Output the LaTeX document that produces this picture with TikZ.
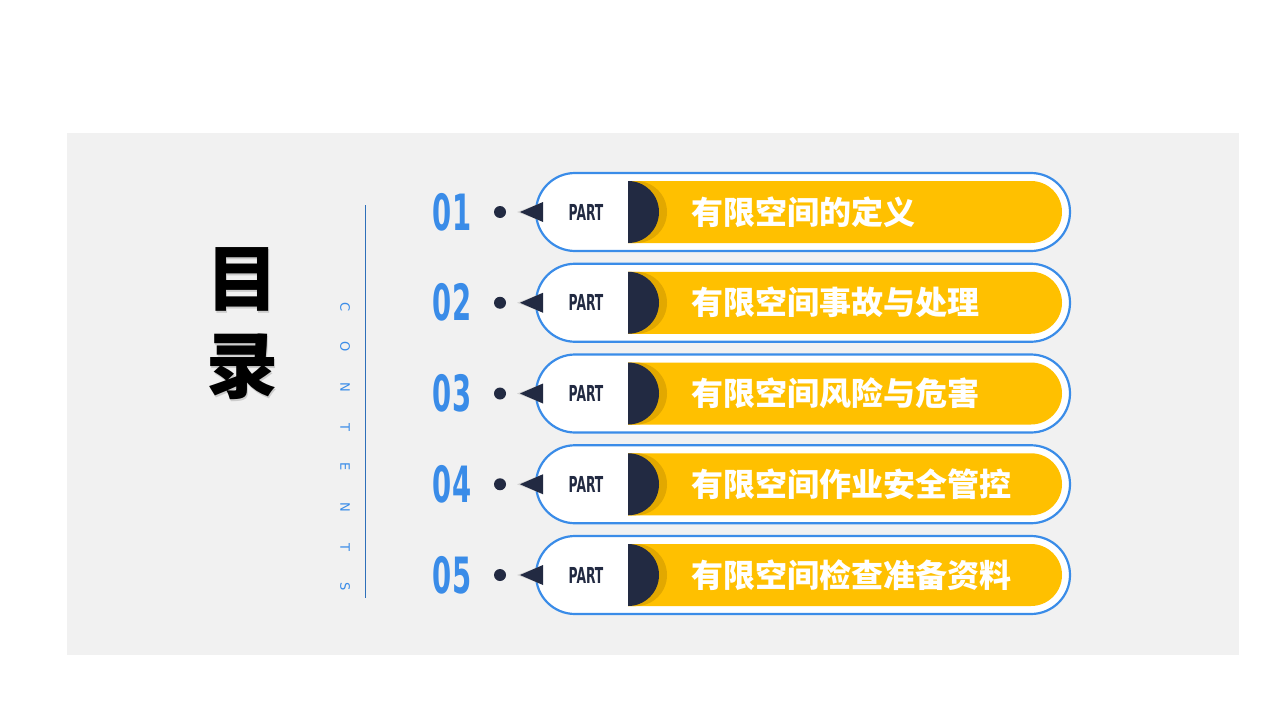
\documentclass[tikz,border=0pt]{standalone}
\usepackage{fontspec}
\setmainfont{DejaVu Sans}
\newfontfamily\cjk{Noto Sans CJK SC}
\newfontfamily\latin{DejaVu Sans}
\definecolor{panel}{HTML}{F1F1F1}
\definecolor{accent}{HTML}{3A8CE8}
\definecolor{navy}{HTML}{222A42}
\definecolor{gold}{HTML}{FFC000}
\definecolor{goldshade}{HTML}{E2A800}
\tikzset{
  numtext/.style={text=accent,font=\latin\bfseries\fontsize{50}{50}\selectfont,inner sep=0pt},
  parttext/.style={text=navy,font=\latin\bfseries\fontsize{22}{22}\selectfont,inner sep=0pt},
  itemtext/.style={text=white,font=\cjk\bfseries\fontsize{32}{32}\selectfont,anchor=west,inner sep=0pt},
  pill/.style={draw=accent,line width=2.2pt,fill=white,rounded corners=39pt},
}
\begin{document}
\begin{tikzpicture}[x=1pt,y=-1pt]
\useasboundingbox (0,0) rectangle (1280,720);
\fill[white] (0,0) rectangle (1280,720);
\fill[panel] (67,133) rectangle (1239,655);
% title
\node[text=black!20,font=\cjk\bfseries\fontsize{72}{87}\selectfont,align=center] (titleshadow) at (243.5,325.5) {目\\录};
\node[text=black,font=\cjk\bfseries\fontsize{72}{87}\selectfont,align=center] (title) at (242,324) {目\\录};
% contents
\draw[accent!80!black,line width=0.8pt] (365,205) -- (365,598);
\foreach \ch [count=\k from 0] in {C,O,N,T,E,N,T,S}
  \node[text=accent,font=\latin\fontsize{13}{13}\selectfont,rotate=-90,inner sep=0pt] (c\k) at (345,307+40*\k) {\ch};
% items
\foreach \num/\label [count=\i from 0] in {01/有限空间的定义,02/有限空间事故与处理,03/有限空间风险与危害,04/有限空间作业安全管控,05/有限空间检查准备资料}{
  \pgfmathsetmacro{\y}{212+90.75*\i}
  \draw[pill] (536,\y-39) rectangle (1070,\y+39);
  \fill[gold] (628,\y-31) -- (1031,\y-31) arc[start angle=-90,end angle=90,radius=31] -- (628,\y+31) -- cycle;
  \begin{scope}
    \clip (628,\y-31) rectangle (700,\y+31);
    \fill[goldshade] (628,\y-31) -- (636,\y-31) arc[start angle=-90,end angle=90,radius=31] -- (628,\y+31) -- cycle;
  \end{scope}
  \fill[navy] (628,\y-31) arc[start angle=-90,end angle=90,radius=31] -- cycle;
  \fill[black!25,opacity=0.6] (517,\y) -- (541,\y-9) -- (541,\y+9) -- cycle;
  \fill[navy] (520,\y) -- (543,\y-10) -- (543,\y+10) -- cycle;
  \fill[navy] (500,\y) circle[radius=6];
  \node[numtext] (n\i) at (452,\y) {\scalebox{0.55}[1]{\num}};
  \node[parttext] (p\i) at (586,\y) {\scalebox{0.56}[1]{PART}};
  \node[itemtext] (t\i) at (691,\y) {\label};
}
\end{tikzpicture}
\end{document}
